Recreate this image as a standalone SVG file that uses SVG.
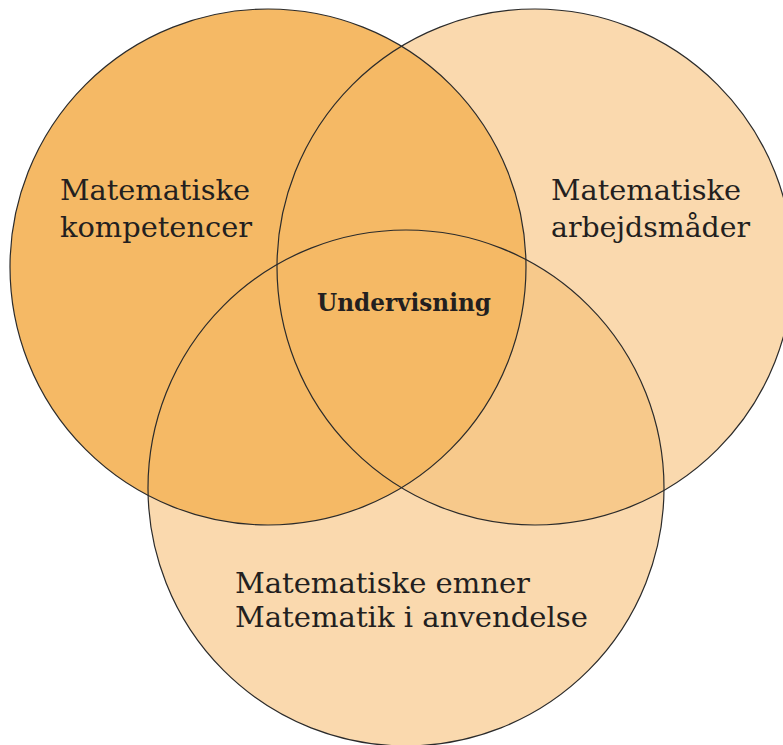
<svg xmlns="http://www.w3.org/2000/svg" width="783" height="745" viewBox="0 0 783 745">
<style>
.lbl{font-family:"DejaVu Serif","Liberation Serif",serif;font-size:28px;fill:#231f20}
.bold{font-family:"DejaVu Serif","Liberation Serif",serif;font-size:24px;font-weight:bold;fill:#231f20}
.edge{fill:none;stroke:#2b2b2b;stroke-width:1.2}
</style>
<defs>
<clipPath id="clipR"><circle cx="535" cy="267" r="258"/></clipPath>
</defs>
<rect width="783" height="745" fill="#ffffff"/>
<g id="fills">
<circle id="fillRight" cx="535" cy="267" r="258" fill="#fad9ae"/>
<circle id="fillBottom" cx="406" cy="488" r="258" fill="#fad9ae"/>
<circle id="fillRB" cx="406" cy="488" r="258" fill="#f7c98b" clip-path="url(#clipR)"/>
<circle id="fillLeft" cx="268" cy="267" r="258" fill="#f5b965"/>
</g>
<g id="connectors">
<circle class="edge" cx="268" cy="267" r="258"/>
<circle class="edge" cx="535" cy="267" r="258"/>
<circle class="edge" cx="406" cy="488" r="258"/>
</g>
<g id="node-kompetencer">
<text class="lbl" x="60" y="200" textLength="190" lengthAdjust="spacingAndGlyphs">Matematiske</text>
<text class="lbl" x="60" y="237" textLength="192" lengthAdjust="spacingAndGlyphs">kompetencer</text>
</g>
<g id="node-arbejdsmaader">
<text class="lbl" x="551" y="200" textLength="190" lengthAdjust="spacingAndGlyphs">Matematiske</text>
<text class="lbl" x="551" y="237" textLength="199" lengthAdjust="spacingAndGlyphs">arbejdsmåder</text>
</g>
<g id="node-emner">
<text class="lbl" x="235" y="593" textLength="295" lengthAdjust="spacingAndGlyphs">Matematiske emner</text>
<text class="lbl" x="235" y="627" textLength="353" lengthAdjust="spacingAndGlyphs">Matematik i anvendelse</text>
</g>
<g id="node-undervisning">
<text class="bold" x="317" y="311" textLength="174" lengthAdjust="spacingAndGlyphs">Undervisning</text>
</g>
</svg>
